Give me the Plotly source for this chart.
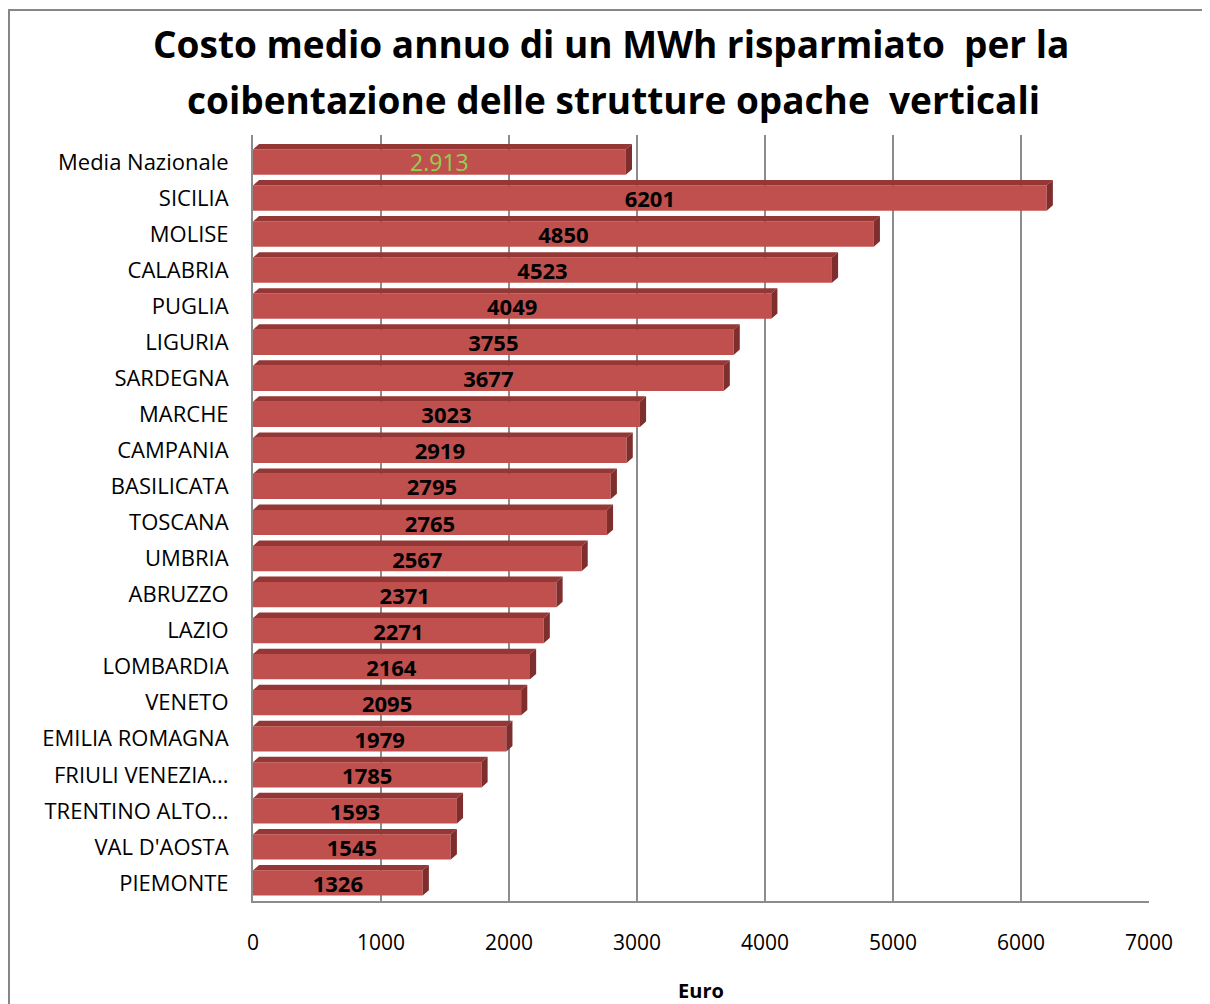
import plotly.graph_objects as go

categories = ["Media Nazionale", "SICILIA", "MOLISE", "CALABRIA", "PUGLIA", "LIGURIA",
              "SARDEGNA", "MARCHE", "CAMPANIA", "BASILICATA", "TOSCANA", "UMBRIA",
              "ABRUZZO", "LAZIO", "LOMBARDIA", "VENETO", "EMILIA ROMAGNA",
              "FRIULI VENEZIA...", "TRENTINO ALTO...", "VAL D'AOSTA", "PIEMONTE"]
values = [2913, 6201, 4850, 4523, 4049, 3755, 3677, 3023, 2919, 2795, 2765, 2567,
          2371, 2271, 2164, 2095, 1979, 1785, 1593, 1545, 1326]
value_labels = ["2.913", "6201", "4850", "4523", "4049", "3755", "3677", "3023", "2919",
                "2795", "2765", "2567", "2371", "2271", "2164", "2095", "1979", "1785",
                "1593", "1545", "1326"]
x_ticks = [0, 1000, 2000, 3000, 4000, 5000, 6000, 7000]
title_lines = ["Costo medio annuo di un MWh risparmiato  per la",
               "coibentazione delle strutture opache  verticali"]

FRONT = "#C0504D"
TOP = "#953735"
SIDE = "#7E2E2C"
BW = 0.7
DX = 48      # depth in data units (x)
DY = -0.15   # depth in category units (y, upward)

pos = list(range(len(categories)))

texts = []
colors = []
sizes = []
for i, t in enumerate(value_labels):
    if i == 0:
        texts.append(t)
        colors.append("#92D050")
        sizes.append(23)
    else:
        texts.append("<b>" + t + "</b>")
        colors.append("#000000")
        sizes.append(22)

fig = go.Figure()

tx, ty, sx, sy = [], [], [], []
for p, v in zip(pos, values):
    yt = p - BW / 2
    yb = p + BW / 2
    tx += [0, v, v + DX, DX, 0, None]
    ty += [yt, yt, yt + DY, yt + DY, yt, None]
    sx += [v, v, v + DX, v + DX, v, None]
    sy += [yt, yb, yb + DY, yt + DY, yt, None]

fig.add_trace(go.Scatter(x=tx, y=ty, mode="lines", fill="toself", fillcolor=TOP,
                         line=dict(width=0, color=TOP), hoverinfo="skip", showlegend=False))
fig.add_trace(go.Scatter(x=sx, y=sy, mode="lines", fill="toself", fillcolor=SIDE,
                         line=dict(width=0, color=SIDE), hoverinfo="skip", showlegend=False))

fig.add_trace(go.Bar(
    x=values, y=pos, orientation="h", width=BW,
    marker=dict(color=FRONT, line=dict(width=0)),
    text=texts, textposition="inside", insidetextanchor="middle",
    textfont=dict(family="Open Sans", size=sizes, color=colors),
    textangle=0, cliponaxis=False, showlegend=False,
))

W, H = 1202, 996
L, R, T, B = 245, 61, 127, 103
PW = W - L - R
PH = H - T - B


def px_x(x):
    return (x - L) / PW


def px_y(y):
    return (H - B - y) / PH


annotations = [
    dict(text="<b>" + title_lines[0] + "</b>", xref="paper", yref="paper",
         x=px_x(603), y=px_y(36), xanchor="center", yanchor="middle", showarrow=False,
         font=dict(family="Open Sans", size=37, color="#000000")),
    dict(text="<b>" + title_lines[1] + "</b>", xref="paper", yref="paper",
         x=px_x(605), y=px_y(91), xanchor="center", yanchor="middle", showarrow=False,
         font=dict(family="Open Sans", size=37, color="#000000")),
]

fig.update_layout(
    width=W, height=H,
    paper_bgcolor="white", plot_bgcolor="white",
    margin=dict(l=L, r=R, t=T, b=B, autoexpand=False),
    font=dict(family="Open Sans", color="#000000"),
    uniformtext=dict(minsize=20, mode="show"),
    annotations=annotations,
    shapes=[dict(type="rect", xref="paper", yref="paper",
                 x0=px_x(1), x1=1.3, y0=-0.3, y1=px_y(2),
                 line=dict(color="#868686", width=2), fillcolor="rgba(0,0,0,0)", layer="below")],
)

fig.update_xaxes(
    range=[0, 7000], tickvals=x_ticks, ticktext=[str(t) for t in x_ticks],
    showgrid=True, gridcolor="#8C8C8C", gridwidth=1.5,
    showline=True, linecolor="#8C8C8C", linewidth=2,
    zeroline=False, ticks="", ticklabelstandoff=22, automargin=False,
    tickfont=dict(family="Open Sans", size=21, color="#000000"),
    title=dict(text="<b>Euro</b>", font=dict(family="Open Sans", size=20, color="#000000"), standoff=31),
)
fig.update_yaxes(
    range=[20.5, -0.75], tickvals=pos, ticktext=categories,
    showgrid=False, zeroline=False, automargin=False,
    showline=True, linecolor="#8C8C8C", linewidth=2,
    ticks="", ticklabelstandoff=18,
    tickfont=dict(family="Open Sans", size=22, color="#000000"),
)

fig.write_html("out.html")
